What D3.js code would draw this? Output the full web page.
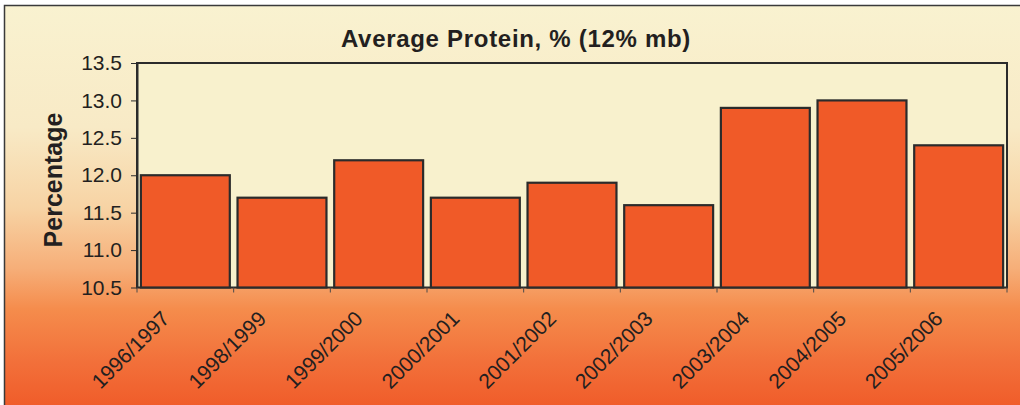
<!DOCTYPE html>
<html>
<head>
<meta charset="utf-8">
<script src="https://cdn.jsdelivr.net/npm/d3@7"></script>
<style>
  html, body { margin: 0; padding: 0; background: #ffffff; }
  svg { display: block; }
  text { font-family: "Liberation Sans", Arial, sans-serif; fill: #231f20; }
</style>
</head>
<body>
<svg id="chart" width="1020" height="405"></svg>
<script>
// Crop seasons and average protein content (% at 12% moisture basis)
const seasons = ["1996/1997", "1998/1999", "1999/2000", "2000/2001", "2001/2002",
                 "2002/2003", "2003/2004", "2004/2005", "2005/2006"];
const protein = [12.0, 11.7, 12.2, 11.7, 11.9, 11.6, 12.9, 13.0, 12.4];
const yTicks = [10.5, 11.0, 11.5, 12.0, 12.5, 13.0, 13.5];
const titleText = "Average Protein, % (12% mb)";
const yLabel = "Percentage";

const svg = d3.select("#chart");
const W = 1020, H = 405;
const plot = { left: 137, top: 63, right: 1007, bottom: 287.5 };

// Background: cream at top fading to orange at bottom
const defs = svg.append("defs");
const grad = defs.append("linearGradient")
  .attr("id", "bg").attr("x1", 0).attr("y1", 0).attr("x2", 0).attr("y2", 1);
[[0, "#f9f2d0"], [0.3, "#f8eac6"], [0.5, "#f7d3a4"], [0.65, "#f6ae78"],
 [0.75, "#f58c4c"], [0.88, "#f2703a"], [1, "#f05a28"]]
  .forEach(([o, c]) => grad.append("stop").attr("offset", o).attr("stop-color", c));

svg.append("rect").attr("x", 4.5).attr("y", 5.5).attr("width", W).attr("height", H)
  .attr("fill", "url(#bg)").attr("stroke", "#3a3a3a").attr("stroke-width", 1.5);

const x = d3.scaleBand().domain(seasons)
  .range([plot.left, plot.right]).paddingInner(0.08).paddingOuter(0.04);
const y = d3.scaleLinear().domain([10.5, 13.5]).range([plot.bottom, plot.top]);

// Plot area
svg.append("rect")
  .attr("x", plot.left).attr("y", plot.top)
  .attr("width", plot.right - plot.left).attr("height", plot.bottom - plot.top)
  .attr("fill", "#f8f1cd").attr("stroke", "#2b2b2b").attr("stroke-width", 2);

// Bars
svg.append("g").selectAll("rect").data(protein).join("rect")
  .attr("x", (d, i) => x(seasons[i]))
  .attr("y", d => y(d))
  .attr("width", x.bandwidth())
  .attr("height", d => y(10.5) - y(d))
  .attr("fill", "#f05a28")
  .attr("stroke", "#2b2b2b")
  .attr("stroke-width", 2.2);

// Y axis
const yAxis = svg.append("g").attr("transform", `translate(${plot.left},0)`)
  .call(d3.axisLeft(y).tickValues(yTicks).tickFormat(d3.format(".1f"))
    .tickSizeInner(6).tickSizeOuter(0).tickPadding(9));
yAxis.select(".domain").attr("stroke", "#2b2b2b").attr("stroke-width", 2);
yAxis.selectAll(".tick line").attr("stroke", "#2b2b2b").attr("stroke-width", 1);
yAxis.selectAll(".tick text").attr("font-size", 21).attr("fill", "#231f20")
  .attr("font-family", "Liberation Sans, Arial, sans-serif");

// X axis: boundary ticks between bands
const bounds = d3.range(seasons.length + 1).map(i => plot.left + i * (plot.right - plot.left) / seasons.length);
svg.append("g").selectAll("line").data(bounds).join("line")
  .attr("x1", d => d).attr("x2", d => d)
  .attr("y1", plot.bottom).attr("y2", plot.bottom + 5)
  .attr("stroke", "#4a4a4a").attr("stroke-width", 1);

svg.append("g").selectAll("text").data(seasons).join("text")
  .attr("transform", d => `translate(${x(d) + x.bandwidth() / 2 - 25},${plot.bottom + 22}) rotate(-45)`)
  .attr("text-anchor", "end")
  .attr("dy", "0.7em")
  .attr("font-size", 21)
  .text(d => d);

// Title
svg.append("text").attr("x", 516).attr("y", 47)
  .attr("text-anchor", "middle").attr("font-size", 24).attr("font-weight", "bold")
  .attr("letter-spacing", 0.7)
  .text(titleText);

// Y axis label
svg.append("text")
  .attr("transform", `translate(62,180) rotate(-90)`)
  .attr("text-anchor", "middle").attr("font-size", 25).attr("font-weight", "bold")
  .text(yLabel);
</script>
</body>
</html>
